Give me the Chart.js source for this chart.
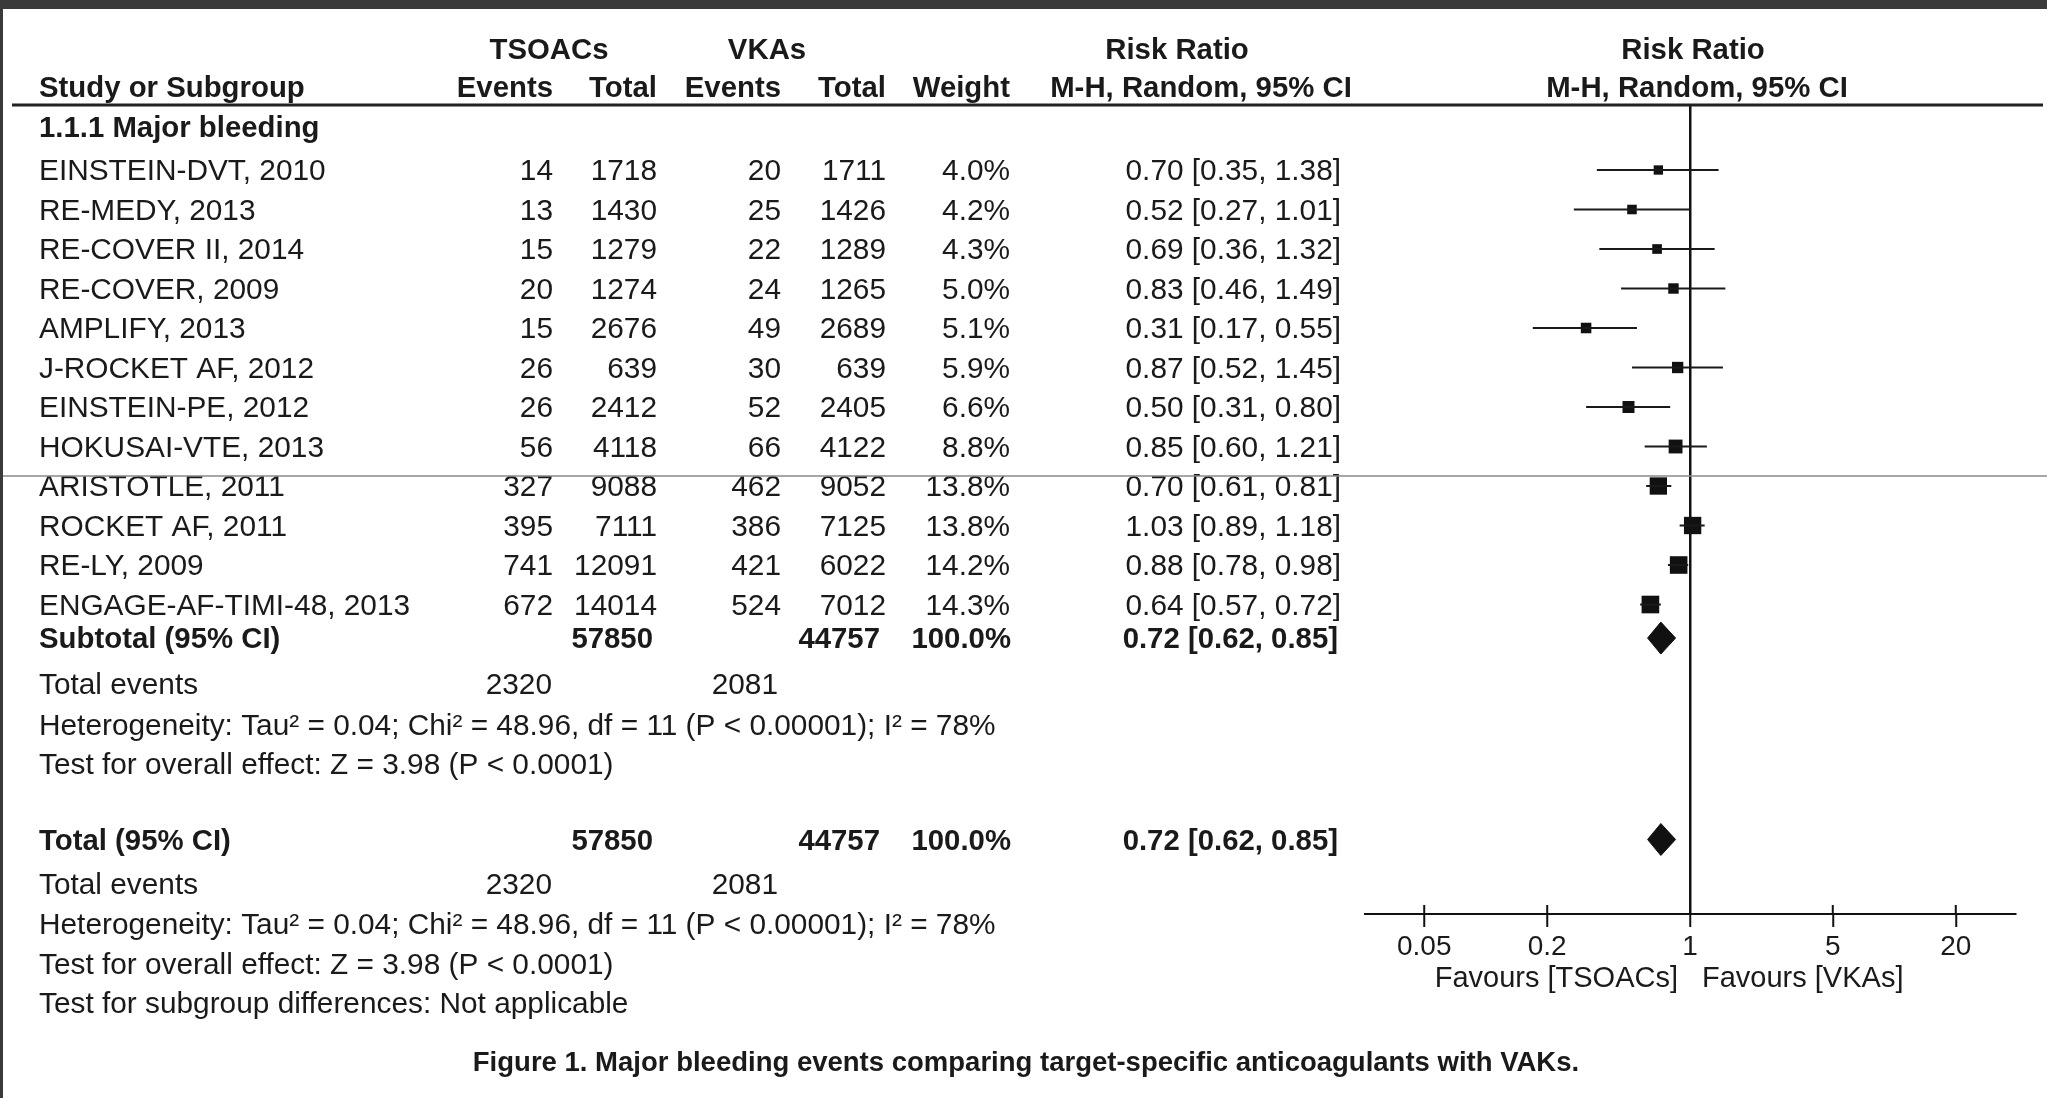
<!DOCTYPE html>
<html>
<head>
<meta charset="utf-8">
<script src="https://cdn.jsdelivr.net/npm/chart.js@4.4.1/dist/chart.umd.min.js"></script>
<style>
  html, body { margin: 0; padding: 0; background: #fff; overflow: hidden; }
  canvas { display: block; }
</style>
</head>
<body>
<canvas id="forest" width="2047" height="1098"></canvas>
<script>
// --- data ---
const studies = ['EINSTEIN-DVT, 2010', 'RE-MEDY, 2013', 'RE-COVER II, 2014', 'RE-COVER, 2009',
  'AMPLIFY, 2013', 'J-ROCKET AF, 2012', 'EINSTEIN-PE, 2012', 'HOKUSAI-VTE, 2013',
  'ARISTOTLE, 2011', 'ROCKET AF, 2011', 'RE-LY, 2009', 'ENGAGE-AF-TIMI-48, 2013'];
const tsoacEvents = [14, 13, 15, 20, 15, 26, 26, 56, 327, 395, 741, 672];
const tsoacTotal = [1718, 1430, 1279, 1274, 2676, 639, 2412, 4118, 9088, 7111, 12091, 14014];
const vkaEvents = [20, 25, 22, 24, 49, 30, 52, 66, 462, 386, 421, 524];
const vkaTotal = [1711, 1426, 1289, 1265, 2689, 639, 2405, 4122, 9052, 7125, 6022, 7012];
const weights = [4.0, 4.2, 4.3, 5.0, 5.1, 5.9, 6.6, 8.8, 13.8, 13.8, 14.2, 14.3];
const rr = [0.70, 0.52, 0.69, 0.83, 0.31, 0.87, 0.50, 0.85, 0.70, 1.03, 0.88, 0.64];
const rrLow = [0.35, 0.27, 0.36, 0.46, 0.17, 0.52, 0.31, 0.60, 0.61, 0.89, 0.78, 0.57];
const rrHigh = [1.38, 1.01, 1.32, 1.49, 0.55, 1.45, 0.80, 1.21, 0.81, 1.18, 0.98, 0.72];

// pooled result (subtotal == total, only one subgroup)
const pooledRR = [0.72, 0.62, 0.85];     // estimate, low, high
const pooledTotals = [57850, 44757];
const pooledEvents = [2320, 2081];
const heteroText = 'Heterogeneity: Tau\u00b2 = 0.04; Chi\u00b2 = 48.96, df = 11 (P < 0.00001); I\u00b2 = 78%';
const effectText = 'Test for overall effect: Z = 3.98 (P < 0.0001)';

const xTicks = [0.05, 0.2, 1, 5, 20];

// --- layout (row units on the y scale) ---
const FONT = '"Liberation Sans", Arial, sans-serif';
const INK = '#1a1a1a';
const rows = { head1: -2.063, head2: -1.101, group: -0.089, sub: 12.85, subEv: 14.013, subHet: 15.038,
  subZ: 16.03, tot: 17.949, totEv: 19.071, totHet: 20.096, totZ: 21.089, diff: 22.08, caption: 23.557 };
const halfDiamond = 0.405;
const cols = { name: 39, ev1: 553, tot1: 657, ev2: 781, tot2: 886, weight: 1010, ci: 1341 };

Chart.defaults.font.family = FONT;

const fmt = v => v.toFixed(2);

function diamond(row) {
  const [est, lo, hi] = pooledRR;
  return {
    data: [{x: lo, y: row}, {x: est, y: row - halfDiamond}, {x: hi, y: row}, {x: est, y: row + halfDiamond}, {x: lo, y: row}],
    borderColor: '#111', backgroundColor: '#111', borderWidth: 1,
    pointRadius: 0, fill: 'shape', tension: 0
  };
}

const datasets = [];
studies.forEach((s, i) => {
  datasets.push({
    data: [{x: rrLow[i], y: i + 1}, {x: rrHigh[i], y: i + 1}],
    borderColor: '#1a1a1a', borderWidth: 2, pointRadius: 0, fill: false
  });
});
datasets.push({
  data: rr.map((v, i) => ({x: v, y: i + 1})),
  showLine: false,
  pointStyle: 'rect',
  pointRadius: ctx => 3.3 * Math.sqrt(weights[ctx.dataIndex]),
  backgroundColor: '#111', borderColor: '#111', borderWidth: 0
});
datasets.push(diamond(rows.sub));
datasets.push(diamond(rows.tot));

const tablePlugin = {
  id: 'table',
  beforeDraw(chart) {
    const c = chart.ctx;
    c.save();
    c.fillStyle = '#fff';
    c.fillRect(0, 0, chart.width, chart.height);
    c.fillStyle = '#3a3a3a';
    c.fillRect(0, 0, chart.width, 9);
    c.fillRect(0, 0, 3, chart.height);
    c.restore();
  },
  afterDraw(chart) {
    const c = chart.ctx, ys = chart.scales.y, xs = chart.scales.x;
    const Y = r => ys.getPixelForValue(r) + 2;
    function txt(s, x, r, align, bold, size) {
      c.save();
      c.font = (bold ? 'bold ' : '') + (size || 29) + 'px ' + FONT;
      c.textAlign = align || 'left';
      c.textBaseline = 'middle';
      c.fillStyle = INK;
      c.translate(x, Y(r));
      c.scale(bold ? 1.012 : 1.028, 1);   // source font runs a touch wider
      c.fillText(s, 0, 0);
      c.restore();
    }
    c.save();

    // header
    txt('TSOACs', 549, rows.head1, 'center', true);
    txt('VKAs', 767, rows.head1, 'center', true);
    txt('Risk Ratio', 1177, rows.head1, 'center', true);
    txt('Risk Ratio', 1693, rows.head1, 'center', true);
    txt('Study or Subgroup', cols.name, rows.head2, 'left', true);
    txt('Events', cols.ev1, rows.head2, 'right', true);
    txt('Total', cols.tot1, rows.head2, 'right', true);
    txt('Events', cols.ev2, rows.head2, 'right', true);
    txt('Total', cols.tot2, rows.head2, 'right', true);
    txt('Weight', cols.weight, rows.head2, 'right', true);
    txt('M-H, Random, 95% CI', 1201, rows.head2, 'center', true);
    txt('M-H, Random, 95% CI', 1697, rows.head2, 'center', true);

    c.strokeStyle = '#222';
    c.lineWidth = 3;
    c.beginPath(); c.moveTo(12, 105); c.lineTo(2043, 105); c.stroke();

    txt('1.1.1 Major bleeding', cols.name, rows.group, 'left', true);

    studies.forEach((s, i) => {
      const r = i + 1;
      txt(s, cols.name, r);
      txt(String(tsoacEvents[i]), cols.ev1, r, 'right');
      txt(String(tsoacTotal[i]), cols.tot1, r, 'right');
      txt(String(vkaEvents[i]), cols.ev2, r, 'right');
      txt(String(vkaTotal[i]), cols.tot2, r, 'right');
      txt(weights[i].toFixed(1) + '%', cols.weight, r, 'right');
      txt(fmt(rr[i]) + ' [' + fmt(rrLow[i]) + ', ' + fmt(rrHigh[i]) + ']', cols.ci, r, 'right');
    });

    const ciPooled = fmt(pooledRR[0]) + ' [' + fmt(pooledRR[1]) + ', ' + fmt(pooledRR[2]) + ']';
    [['Subtotal (95% CI)', rows.sub, rows.subEv, rows.subHet, rows.subZ],
     ['Total (95% CI)', rows.tot, rows.totEv, rows.totHet, rows.totZ]].forEach(b => {
      txt(b[0], cols.name, b[1], 'left', true);
      txt(String(pooledTotals[0]), 653, b[1], 'right', true);
      txt(String(pooledTotals[1]), 880, b[1], 'right', true);
      txt('100.0%', 1011, b[1], 'right', true);
      txt(ciPooled, 1338, b[1], 'right', true);
      txt('Total events', cols.name, b[2]);
      txt(String(pooledEvents[0]), 552, b[2], 'right');
      txt(String(pooledEvents[1]), 778, b[2], 'right');
      txt(heteroText, cols.name, b[3]);
      txt(effectText, cols.name, b[4]);
    });
    txt('Test for subgroup differences: Not applicable', cols.name, rows.diff);

    // upward part of the axis ticks
    c.strokeStyle = '#111';
    c.lineWidth = 2;
    xs.ticks.forEach(t => {
      const px = xs.getPixelForValue(t.value);
      c.beginPath(); c.moveTo(px, chart.chartArea.bottom - 9); c.lineTo(px, chart.chartArea.bottom); c.stroke();
    });

    const one = xs.getPixelForValue(1);
    c.font = '29px ' + FONT;
    c.fillStyle = INK;
    c.textBaseline = 'middle';
    c.textAlign = 'right';
    c.fillText('Favours [TSOACs]', one - 12, 979);
    c.textAlign = 'left';
    c.fillText('Favours [VKAs]', one + 12, 979);

    // faint scan seam across the page
    c.strokeStyle = '#8a8a8a';
    c.lineWidth = 1.5;
    c.beginPath(); c.moveTo(3, 476); c.lineTo(2047, 476); c.stroke();

    txt('Figure 1. Major bleeding events comparing target-specific anticoagulants with VAKs.', 1026, rows.caption, 'center', true, 27.2);
    c.restore();
  }
};

new Chart(document.getElementById('forest'), {
  type: 'line',
  data: { datasets: datasets },
  plugins: [tablePlugin],
  options: {
    responsive: false,
    animation: false,
    events: [],
    layout: { padding: { left: 1365, right: 32, top: 105, bottom: 0 } },
    plugins: { legend: { display: false }, tooltip: { enabled: false }, title: { display: false } },
    scales: {
      x: {
        type: 'logarithmic',
        min: 0.02565,
        max: 38.99,
        afterBuildTicks: s => { s.ticks = xTicks.map(v => ({ value: v })); },
        afterFit: s => { s.height = 184; },
        ticks: {
          autoSkip: false, maxRotation: 0, padding: 3, color: INK,
          font: { size: 28 },
          callback: v => String(v)
        },
        grid: {
          drawOnChartArea: true,
          color: ctx => (ctx.tick && ctx.tick.value === 1) ? '#111' : 'rgba(0,0,0,0)',
          lineWidth: 2.5,
          tickColor: '#111',
          tickWidth: 2,
          tickLength: 13
        },
        border: { display: true, color: '#111', width: 2 }
      },
      y: {
        type: 'linear',
        display: false,
        reverse: true,
        min: -0.6456,
        max: 19.835
      }
    }
  }
});
</script>
</body>
</html>
